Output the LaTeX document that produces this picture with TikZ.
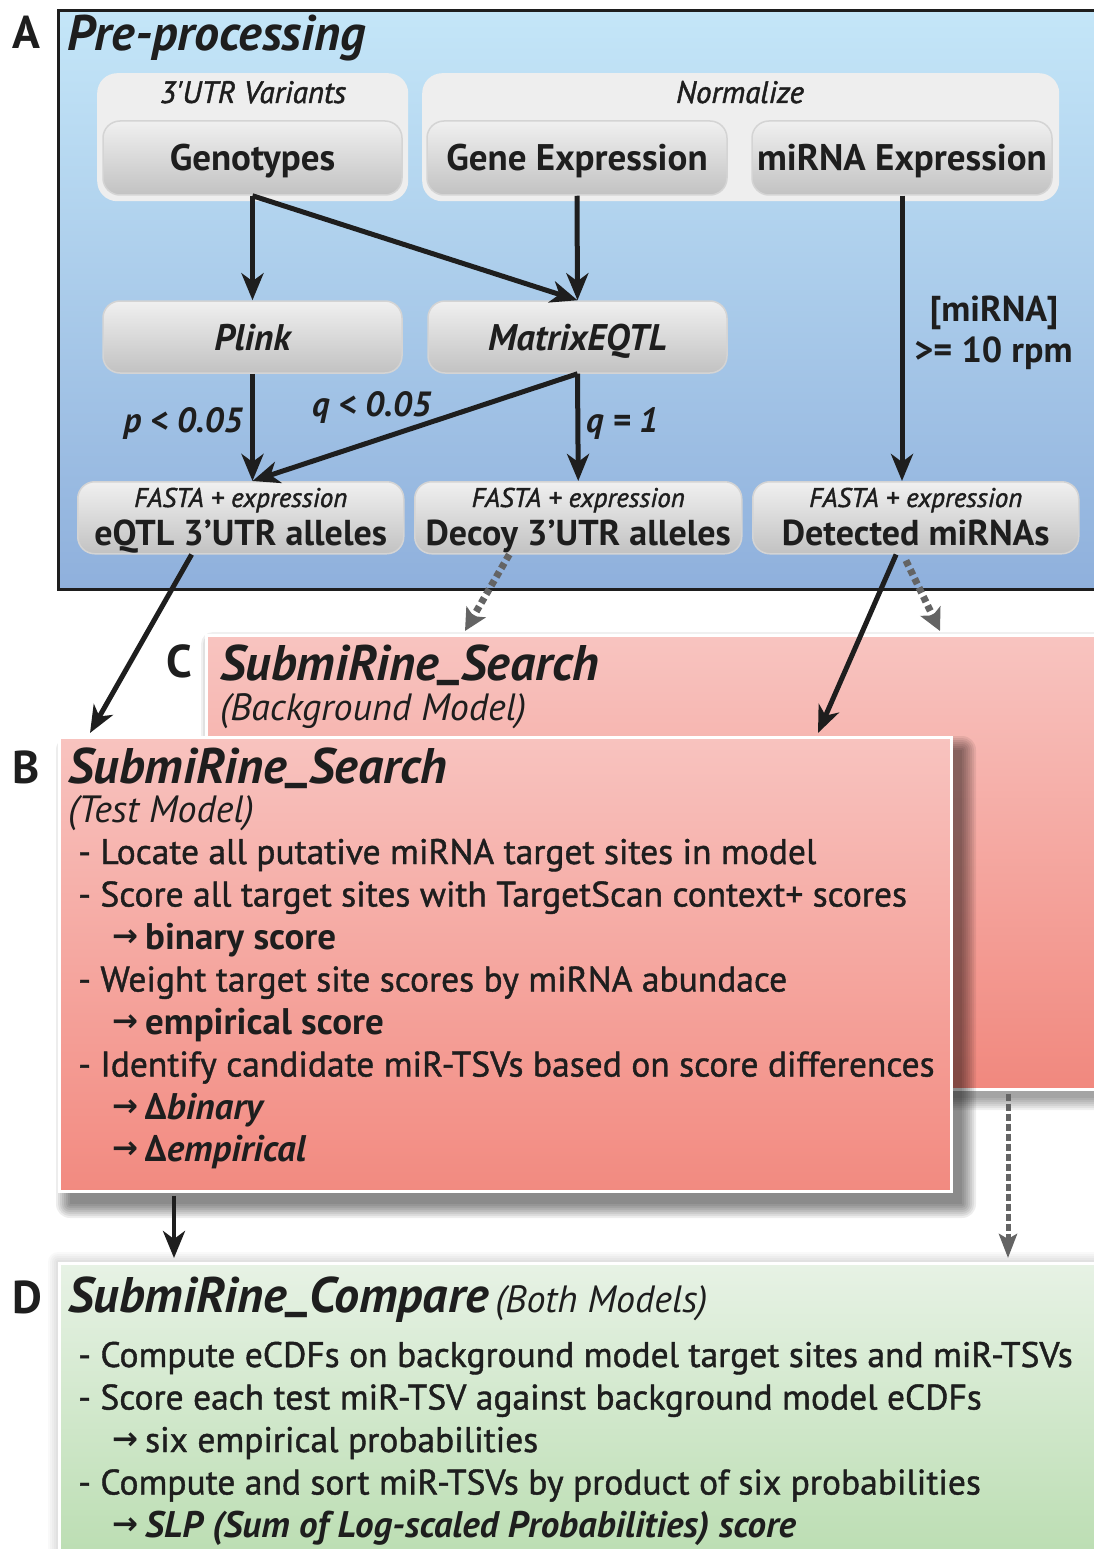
\documentclass[tikz,border=0pt]{standalone}
\usepackage{fontspec}
\setmainfont{PT Sans}
\newfontfamily\semib{PT Sans}[UprightFeatures={FakeBold=1.2},ItalicFeatures={FakeBold=1.5}]
\newfontfamily\arrowfont{DejaVu Sans}
\usetikzlibrary{arrows.meta,calc}
\definecolor{atop}{RGB}{196,230,248}
\definecolor{abot}{RGB}{143,176,220}
\definecolor{grpfill}{RGB}{238,238,238}
\definecolor{btntop}{RGB}{240,240,240}
\definecolor{btnbot}{RGB}{194,194,194}
\definecolor{btnedge}{RGB}{212,212,212}
\definecolor{ctop}{RGB}{248,196,192}
\definecolor{cbot}{RGB}{241,136,126}
\definecolor{btop}{RGB}{248,195,191}
\definecolor{bbot}{RGB}{242,138,128}
\definecolor{dtop}{RGB}{231,242,229}
\definecolor{dbot}{RGB}{182,219,172}
\definecolor{dgray}{RGB}{100,100,100}
\definecolor{ink}{RGB}{30,30,30}
\newcommand\rarr{{\arrowfont\bfseries\fontsize{31}{31}\selectfont\raisebox{3pt}{→}}\hspace{7pt}}
\newcommand\us{\raisebox{6pt}{\_}}
\tikzset{
  grp/.style={fill=grpfill, rounded corners=20pt, inner sep=0pt},
  btn/.style={rounded corners=17pt, top color=btntop, bottom color=btnbot, draw=btnedge, line width=1.5pt, inner sep=0pt, text=ink},
  btnlbl/.style={font=\bfseries\fontsize{37}{37}\selectfont, text height=26pt, text depth=0pt},
  tool/.style={font=\bfseries\itshape\fontsize{37}{37}\selectfont, text height=26pt, text depth=0pt},
  arr/.style={draw=ink, line width=5pt, -{Stealth[length=27pt,width=22pt,inset=8pt]}},
  darr/.style={draw=dgray, line width=7pt, dash pattern=on 6pt off 4pt, -{Stealth[length=22pt,width=22pt,inset=5pt]}},
  darrthin/.style={draw=dgray, line width=5pt, dash pattern=on 7pt off 3pt, -{Stealth[length=24pt,width=18pt,inset=5pt]}},
  lbl/.style={inner sep=0pt, text=ink},
  panel/.style={draw=white, line width=2.5pt, inner sep=0pt, anchor=north west},
  body/.style={inner sep=0pt, anchor=base west, text=ink, font=\semib\fontsize{35.5}{35.5}\selectfont},
  bodyb/.style={inner sep=0pt, anchor=base west, text=ink, font=\bfseries\fontsize{37}{37}\selectfont},
  letter/.style={inner sep=0pt, anchor=base west, text=ink, font=\bfseries\fontsize{46}{46}\selectfont},
  ttl/.style={lbl, anchor=base west, font=\bfseries\itshape\fontsize{50}{50}\selectfont},
  sub/.style={lbl, anchor=base west, font=\itshape\fontsize{38}{38}\selectfont},
  cond/.style={lbl, font=\bfseries\itshape\fontsize{35}{35}\selectfont},
}
\begin{document}
\begin{tikzpicture}[x=1pt,y=-1pt]
\useasboundingbox (0,0) rectangle (1094,1549);
\clip (0,0) rectangle (1094,1549);
\fill[white] (0,0) rectangle (1094,1549);

% ---------- Panel A ----------
\node[panel, draw=ink, line width=3pt, top color=atop, bottom color=abot, minimum width=1070, minimum height=579] (A) at (57,9) {};
\node[letter] (Alab) at (12,49) {A};
\node[lbl, anchor=base west, font=\bfseries\itshape\fontsize{50}{50}\selectfont] (Atitle) at (67,51) {Pre-processing};

\node[grp, minimum width=311, minimum height=128, anchor=north west] (g1) at (97,73) {};
\node[grp, minimum width=637, minimum height=128, anchor=north west] (g2) at (422,73) {};
\node[lbl, anchor=base, font=\semib\itshape\fontsize{31}{31}\selectfont] (g1t) at (253,103) {3'UTR Variants};
\node[lbl, anchor=base, font=\semib\itshape\fontsize{31}{31}\selectfont] (g2t) at (740,103) {Normalize};

\node[btn, btnlbl, minimum width=299, minimum height=74] (geno) at (252.5,158) {Genotypes};
\node[btn, btnlbl, minimum width=300, minimum height=74] (gexp) at (577,158) {Gene Expression};
\node[btn, btnlbl, minimum width=300, minimum height=74] (mexp) at (902,158) {miRNA Expression};

\node[btn, tool, minimum width=299, minimum height=72] (plink) at (252.5,337) {Plink};
\node[btn, tool, minimum width=299, minimum height=72] (meqtl) at (577.5,337) {MatrixEQTL};

\node[btn, minimum width=326, minimum height=72, anchor=north west] (eqtl) at (77,481) {};
\node[btn, minimum width=327, minimum height=72, anchor=north west] (decoy) at (414,481) {};
\node[btn, minimum width=326, minimum height=72, anchor=north west] (det) at (752,481) {};
\foreach \n/\t in {eqtl/eQTL 3'UTR alleles, decoy/Decoy 3'UTR alleles, det/Detected miRNAs}{
  \node[lbl, anchor=base, font=\semib\itshape\fontsize{27}{27}\selectfont] (\n f) at ($(\n.north)+(0,26)$) {FASTA + expression};
  \node[lbl, anchor=base, font=\bfseries\fontsize{36}{36}\selectfont] (\n t) at ($(\n.north)+(0,64)$) {\t};
}

\coordinate (eqin) at (plink.south |- eqtl.north);
\draw[arr] (geno.south) -- (plink.north);
\draw[arr] (geno.south) -- (meqtl.north);
\draw[arr] (gexp.south) -- (meqtl.north);
\draw[arr] (mexp.south) -- (mexp.south |- det.north);
\draw[arr] (plink.south) -- (eqin);
\draw[arr] (meqtl.south) -- (eqin);
\draw[arr] (meqtl.south) -- (decoy.north);

\node[cond, anchor=base east] (lp) at (243,432) {p < 0.05};
\node[cond, anchor=base west] (lq) at (312,416) {q < 0.05};
\node[cond, anchor=base west] (lq1) at (586,432) {q = 1};
\node[lbl, anchor=base, font=\bfseries\fontsize{36}{36}\selectfont] (lm1) at (994,321) {[miRNA]};
\node[lbl, anchor=base, font=\bfseries\fontsize{36}{36}\selectfont] (lm2) at (993.5,362) {>= 10 rpm};

% ---------- Panel C ----------
\foreach \r in {0,2,...,12}{
  \fill[black, opacity=0.06, rounded corners=\r pt] (205+8-\r,634+10-\r) rectangle (1120+\r,1088+10+\r);
}
\node[panel, top color=ctop, bottom color=cbot, minimum width=915, minimum height=454] (C) at (205,634) {};
\node[letter] (Clab) at (166,677) {C};
\node[ttl] (Ct) at (220,680) {SubmiRine\us Search};
\node[sub] (Cs) at (220,720) {(Background Model)};

% ---------- Panel B ----------
\foreach \r in {0,2,...,14}{
  \fill[black, opacity=0.07, rounded corners=\r pt] (58+12-\r,736+14-\r) rectangle (950+12+\r,1190+14+\r);
}
\node[panel, top color=btop, bottom color=bbot, minimum width=892, minimum height=454] (B) at (58,736) {};
\node[letter] (Blab) at (12,783) {B};
\node[ttl] (Bt) at (68,783) {SubmiRine\us Search};
\node[sub] (Bs) at (68,822) {(Test Model)};
\node[body] (b1) at (78,864) {- Locate all putative miRNA target sites in model};
\node[body] (b2) at (78,906.5) {- Score all target sites with TargetScan context+ scores};
\node[bodyb] (b3) at (112,949) {\rarr binary score};
\node[body] (b4) at (78,991.5) {- Weight target site scores by miRNA abundace};
\node[bodyb] (b5) at (112,1034) {\rarr empirical score};
\node[body] (b6) at (78,1076.5) {- Identify candidate miR-TSVs based on score differences};
\node[bodyb] (b7) at (112,1119) {\rarr\itshape Δbinary};
\node[bodyb] (b8) at (112,1161.5) {\rarr\itshape Δempirical};

% ---------- Panel D ----------
\foreach \r in {0,2,...,10}{
  \fill[black, opacity=0.025, rounded corners=\r pt] (58-\r,1262-\r) rectangle (1120+\r,1600);
}
\node[panel, top color=dtop, bottom color=dbot, minimum width=1062, minimum height=330] (D) at (58,1262) {};
\node[letter] (Dlab) at (12,1313) {D};
\node[ttl] (Dt) at (68,1312) {SubmiRine\us Compare};
\node[sub] (Ds) at (Dt.base east) {\,(Both Models)};
\node[body] (d1) at (78,1367) {- Compute eCDFs on background model target sites and miR-TSVs};
\node[body] (d2) at (78,1409.5) {- Score each test miR-TSV against background model eCDFs};
\node[body] (d3) at (112,1452) {\rarr six empirical probabilities};
\node[body] (d4) at (78,1494.5) {- Compute and sort miR-TSVs by product of six probabilities};
\node[bodyb] (d5) at (112,1537) {\rarr\itshape SLP (Sum of Log-scaled Probabilities) score};

% ---------- connectors between panels ----------
\draw[arr] ($(eqtl.south west)!0.35!(eqtl.south east)$) -- ($(B.north west)+(32,-3)$);
\draw[arr] ($(det.south west)!0.44!(det.south east)$) -- ($(B.north west)+(760,-3)$);
\draw[darr] ($(decoy.south west)!0.29!(decoy.south east)$) -- ($(C.north west)+(260,-3)$);
\draw[darr] ($(det.south west)!0.47!(det.south east)+(0,6)$) -- ($(C.north west)+(735,-3)$);
\draw[arr, line width=4.5pt] ($(B.south west)+(116,3)$) -- ($(D.north west)+(116,-4)$);
\draw[darrthin] ($(C.south west)+(803,3)$) -- ($(D.north west)+(950,-4)$);
\end{tikzpicture}
\end{document}
